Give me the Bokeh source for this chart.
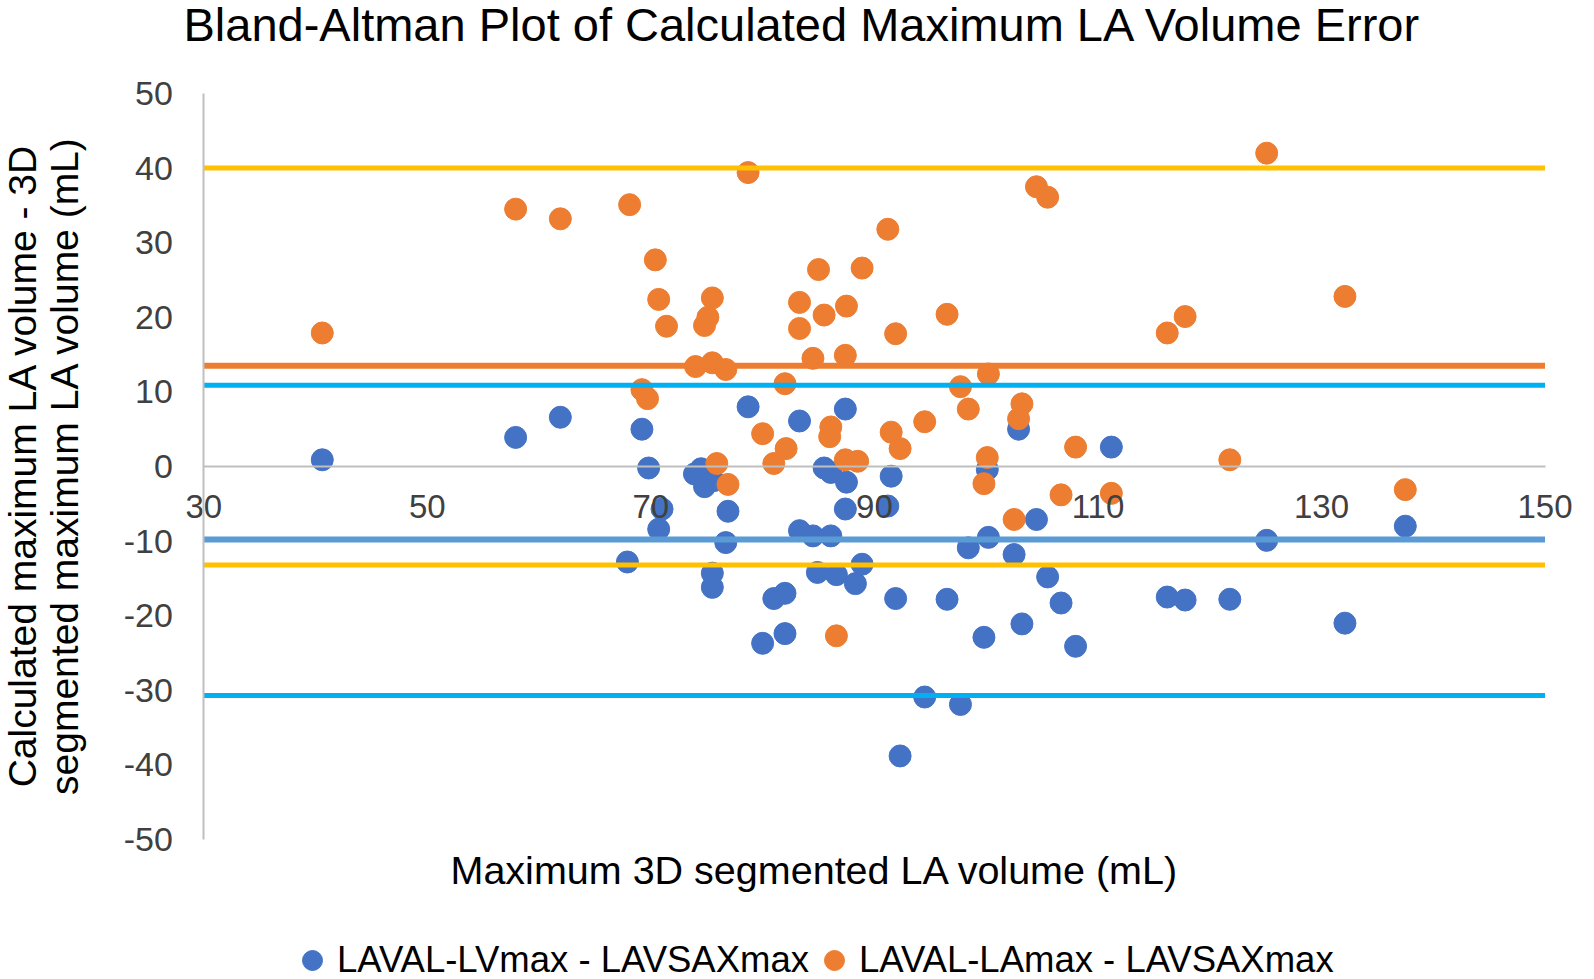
import math
from bokeh.plotting import figure
from bokeh.models import (Label, Legend, LegendItem, LinearAxis, FixedTicker,
                          PrintfTickFormatter, Range1d)
from bokeh.embed import file_html
from bokeh.resources import INLINE

# ---- data ----
x_ticks = [30, 50, 70, 90, 110, 130, 150]
y_ticks = [-50, -40, -30, -20, -10, 0, 10, 20, 30, 40, 50]

lv_x = [40.6, 57.9, 61.9, 67.9, 69.2, 69.8, 70.7, 71.0, 73.9, 74.5, 74.8, 75.6,
        75.5, 75.5, 76.9, 76.7, 78.7, 80.0, 81.0, 82.0, 82.0, 83.3, 83.3, 84.5,
        84.9, 85.5, 86.1, 86.1, 86.6, 87.4, 87.5, 87.4, 88.3, 88.9, 91.5, 91.2,
        91.9, 92.3, 94.5, 96.5, 97.7, 98.4, 99.8, 100.1, 100.2, 102.5, 102.9,
        103.2, 104.5, 105.5, 106.7, 108.0, 111.2, 116.2, 117.8, 121.8, 125.1,
        132.1, 137.5]
lv_y = [0.9, 3.9, 6.6, -12.8, 5.0, -0.2, -8.4, -5.7, -1.0, -0.3, -2.7, -1.9,
        -14.3, -16.2, -6.0, -10.2, 8.0, -23.7, -17.7, -17.0, -22.4, 6.1, -8.6, -9.3,
        -14.2, -0.2, -0.8, -9.3, -14.5, 7.7, -2.1, -5.7, -15.7, -13.1, -1.3, -5.3,
        -17.7, -38.8, -30.9, -17.8, -31.9, -10.9, -22.9, -0.4, -9.5, -11.8, 5.0,
        -21.1, -7.1, -14.8, -18.3, -24.1, 2.6, -17.5, -17.9, -17.8, -9.9,
        -21.0, -8.0]

la_x = [40.6, 57.9, 61.9, 68.1, 69.2, 69.7, 70.4, 70.7, 71.4, 74.0, 74.8, 75.1,
        75.5, 75.5, 75.9, 76.7, 76.9, 78.7, 80.0, 81.0, 82.0, 82.1, 83.3, 83.3,
        84.5, 85.0, 85.5, 86.1, 86.0, 86.6, 87.4, 87.5, 87.4, 88.5, 88.9, 91.2,
        91.5, 91.9, 92.3, 94.5, 96.5, 97.7, 98.4, 99.8, 100.1, 100.2, 102.5,
        102.9, 103.2, 104.5, 105.5, 106.7, 108.0, 111.2, 116.2, 117.8, 121.8,
        125.1, 132.1, 137.5]
la_y = [17.9, 34.5, 33.2, 35.1, 10.3, 9.1, 27.7, 22.4, 18.8, 13.4, 18.9, 20.0,
        22.6, 13.9, 0.4, 13.0, -2.4, 39.4, 4.4, 0.4, 11.1, 2.4, 22.0, 18.5,
        14.5, 26.4, 20.3, 5.3, 4.0, -22.7, 14.9, 21.5, 0.9, 0.7, 26.6, 31.8,
        4.6, 17.8, 2.4, 6.0, 20.4, 10.7, 7.7, -2.3, 1.2, 12.4, -7.1,
        6.4, 8.4, 37.5, 36.1, -3.8, 2.6, -3.6, 17.9, 20.1, 0.9,
        42.0, 22.8, -3.1]

# reference lines (mean / limits of agreement)
la_upper = 40.0
la_mean = 13.5
lv_upper = 10.9
lv_mean = -9.8
la_lower = -13.2
lv_lower = -30.7

series_names = ["LAVAL-LVmax - LAVSAXmax", "LAVAL-LAmax - LAVSAXmax"]
title_text = "Bland-Altman Plot of Calculated Maximum LA Volume Error"
x_title = "Maximum 3D segmented LA volume (mL)"
y_title_lines = ["Calculated maximum LA volume - 3D",
                 "segmented maximum LA volume (mL)"]

FONT = "Liberation Sans"
BLUE = "#4472C4"
ORANGE = "#ED7D31"
AXIS_GRAY = "#BFBFBF"
TICK_GRAY = "#404040"

# ---- layout (pixels) ----
W, H = 1590, 979
plot_left, plot_right = 203.3, 1544.5
plot_top, plot_bottom = 93.0, 839.0

x0, x1 = x_ticks[0], x_ticks[-1]
y0, y1 = y_ticks[0], y_ticks[-1]
ppx = (plot_right - plot_left) / (x1 - x0)
ppy = (plot_bottom - plot_top) / (y1 - y0)
x_range = Range1d(x0 - plot_left / ppx, x1 + (W - plot_right) / ppx)
y_range = Range1d(y0 - (H - plot_bottom) / ppy, y1 + plot_top / ppy)

p = figure(width=W, height=H, x_range=x_range, y_range=y_range,
           output_backend="svg", toolbar_location=None,
           x_axis_location=None, y_axis_location=None,
           min_border=0)
p.grid.visible = False
p.outline_line_color = None
p.background_fill_color = "white"
p.border_fill_color = "white"

# vertical axis at x = 30
ya = LinearAxis(fixed_location=x0, ticker=FixedTicker(ticks=y_ticks), bounds=(y0, y1))
ya.formatter = PrintfTickFormatter(format="%d")
ya.axis_line_color = AXIS_GRAY
ya.axis_line_width = 2
ya.major_tick_line_color = None
ya.minor_tick_line_color = None
ya.major_label_text_font = FONT
ya.major_label_text_font_size = "34px"
ya.major_label_text_color = TICK_GRAY
ya.major_label_standoff = 25
p.add_layout(ya, "left")

# horizontal axis crossing at y = 0
xa = LinearAxis(fixed_location=0, ticker=FixedTicker(ticks=x_ticks), bounds=(x0, x1))
xa.formatter = PrintfTickFormatter(format="%d")
xa.axis_line_color = AXIS_GRAY
xa.axis_line_width = 2
xa.major_tick_line_color = None
xa.minor_tick_line_color = None
xa.major_label_text_font = FONT
xa.major_label_text_font_size = "33px"
xa.major_label_text_color = TICK_GRAY
xa.major_label_standoff = 22
p.add_layout(xa, "below")

r1 = p.scatter(lv_x, lv_y, size=22, fill_color=BLUE, line_color=BLUE)
r2 = p.scatter(la_x, la_y, size=22, fill_color=ORANGE, line_color=ORANGE)

for loc, col, w in [(la_upper, "#FFC000", 5), (la_lower, "#FFC000", 5),
                    (la_mean, ORANGE, 6), (lv_upper, "#00B0F0", 5),
                    (lv_lower, "#00B0F0", 5), (lv_mean, "#5B9BD5", 6)]:
    p.segment(x0=[x0], y0=[loc], x1=[x1], y1=[loc], line_color=col, line_width=w)

# titles (screen units: from the bottom-left of the canvas)
p.add_layout(Label(x=183, y=H - 24, x_units="screen", y_units="screen",
                   text=title_text, text_font=FONT, text_font_size="47px",
                   text_align="left", text_baseline="alphabetic", text_color="black"))
p.add_layout(Label(x=450, y=H - 869, x_units="screen", y_units="screen",
                   text=x_title, text_font=FONT, text_font_size="39.5px",
                   text_align="left", text_baseline="alphabetic", text_color="black"))
for xs, line in zip([22, 64], y_title_lines):
    p.add_layout(Label(x=xs, y=H - 465, x_units="screen", y_units="screen",
                       text=line, angle=math.pi / 2, text_font=FONT,
                       text_font_size="39px", text_align="center",
                       text_baseline="middle", text_color="black"))

legend = Legend(items=[LegendItem(label=series_names[0], renderers=[r1]),
                       LegendItem(label=series_names[1], renderers=[r2])],
                orientation="horizontal", location=(287, H - 985),
                glyph_width=50, glyph_height=50, label_standoff=0,
                spacing=0, padding=0, margin=0,
                border_line_color=None, background_fill_alpha=0,
                label_text_font=FONT, label_text_font_size="36.5px",
                label_text_color="black")
p.add_layout(legend, "center")

open("out.html", "w").write(file_html(p, INLINE))
